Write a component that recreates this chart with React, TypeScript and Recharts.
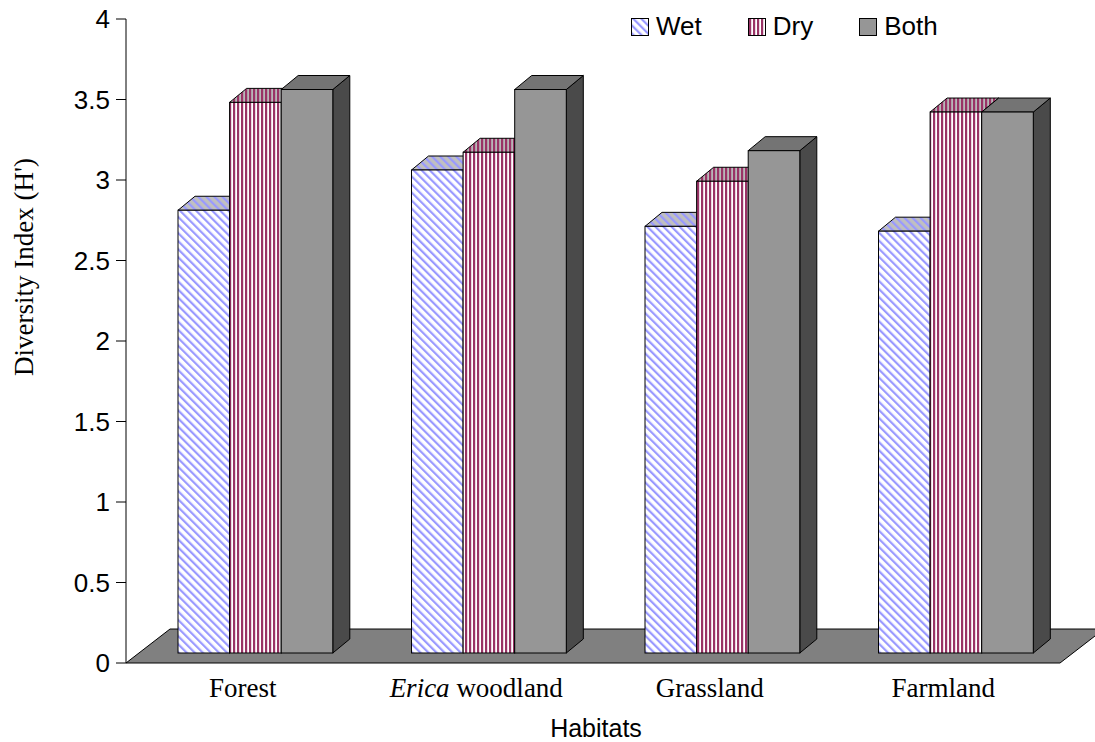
import React from "react";
import { BarChart, Bar, XAxis, YAxis, Legend, ReferenceArea } from "recharts";

const habitats = ["Forest", "Erica woodland", "Grassland", "Farmland"];
const wetValues = [2.75, 3.0, 2.65, 2.62];
const dryValues = [3.42, 3.11, 2.93, 3.36];
const bothValues = [3.5, 3.5, 3.12, 3.36];
const yTicks = [0, 0.5, 1, 1.5, 2, 2.5, 3, 3.5, 4];
const seriesNames = ["Wet", "Dry", "Both"];

const data = habitats.map((habitat, i) => ({
  habitat,
  wet: wetValues[i],
  dry: dryValues[i],
  both: bothValues[i],
}));

const SANS = "'Liberation Sans', Arial, sans-serif";
const SERIF = "'Liberation Serif', 'Times New Roman', serif";

// fake 3d: bars sit a bit back on the floor
const SHIFT_X = 13;
const SHIFT_Y = 10;
const DEPTH_X = 17;
const DEPTH_Y = 14;
const FLOOR_X = 44;

const faces: Record<string, { front: string; top: string; side: string }> = {
  wet: { front: "url(#wetFront)", top: "url(#wetTop)", side: "url(#wetTop)" },
  dry: { front: "url(#dryFront)", top: "url(#dryTop)", side: "url(#dryTop)" },
  both: { front: "#969696", top: "#747474", side: "#4a4a4a" },
};

const Bar3D = (props: any) => {
  const { x, y, width, height, kind } = props;
  const f = faces[kind];
  const X = x + SHIFT_X;
  const Y = y - SHIFT_Y;
  const W = width;
  const H = height;
  return (
    <g stroke="#000" strokeWidth={1}>
      <polygon
        points={`${X + W},${Y} ${X + W + DEPTH_X},${Y - DEPTH_Y} ${X + W + DEPTH_X},${Y + H - DEPTH_Y} ${X + W},${Y + H}`}
        fill={f.side}
      />
      <polygon
        points={`${X},${Y} ${X + W},${Y} ${X + W + DEPTH_X},${Y - DEPTH_Y} ${X + DEPTH_X},${Y - DEPTH_Y}`}
        fill={f.top}
      />
      <rect x={X} y={Y} width={W} height={H} fill={f.front} />
    </g>
  );
};

const Floor = (props: any) => {
  const { x, y, width, height } = props;
  const front = y + height;
  return (
    <polygon
      points={`${x},${front} ${x + width},${front} ${x + width + FLOOR_X},${y} ${x + FLOOR_X},${y}`}
      fill="#808080"
      stroke="#000"
      strokeWidth={1}
    />
  );
};

const CategoryTick = (props: any) => {
  const { x, y, payload } = props;
  const label: string = payload.value;
  const italic = label.startsWith("Erica ");
  return (
    <text x={x} y={y + 34} textAnchor="middle" fontFamily={SERIF} fontSize={27} fill="#000">
      {italic ? (
        <>
          <tspan fontStyle="italic">Erica</tspan>
          {" woodland"}
        </>
      ) : (
        label
      )}
    </text>
  );
};

const renderLegend = (props: any) => {
  const payload = [...(props.payload || [])].sort(
    (a: any, b: any) => seriesNames.indexOf(a.value) - seriesNames.indexOf(b.value)
  );
  return (
    <div style={{ display: "flex", alignItems: "center", fontFamily: SANS, fontSize: 26, whiteSpace: "nowrap", color: "#000" }}>
      {payload.map((entry: any, i: number) => (
        <div key={`leg-${i}`} style={{ display: "flex", alignItems: "center", marginRight: 46 }}>
          <svg width={18} height={18}>
            <rect x={0.5} y={0.5} width={17} height={17} fill={entry.color} stroke="#000" />
          </svg>
          <span style={{ marginLeft: 7 }}>{entry.value}</span>
        </div>
      ))}
    </div>
  );
};

export default function App() {
  return (
    <div style={{ position: "absolute", left: 0, top: 0, width: 1095, height: 742, background: "#fff" }}>
      <BarChart
        width={1095}
        height={742}
        data={data}
        margin={{ top: 19, right: 35, bottom: 0, left: 0 }}
        barGap={0}
        barSize={51.6}
      >
        <defs>
          <pattern id="wetFront" width={5.7} height={10} patternUnits="userSpaceOnUse" patternTransform="rotate(-45)">
            <rect width={5.7} height={10} fill="#ffffff" />
            <rect width={2.2} height={10} fill="#9999ff" />
          </pattern>
          <pattern id="wetTop" width={5.7} height={10} patternUnits="userSpaceOnUse" patternTransform="rotate(-45)">
            <rect width={5.7} height={10} fill="#c0c0c0" />
            <rect width={2.2} height={10} fill="#9999ff" />
          </pattern>
          <pattern id="dryFront" width={4} height={10} patternUnits="userSpaceOnUse">
            <rect width={4} height={10} fill="#ffffff" />
            <rect x={1} width={2.2} height={10} fill="#993366" />
          </pattern>
          <pattern id="dryTop" width={4} height={10} patternUnits="userSpaceOnUse">
            <rect width={4} height={10} fill="#b8b8b8" />
            <rect x={1} width={2.2} height={10} fill="#993366" />
          </pattern>
        </defs>
        <XAxis
          dataKey="habitat"
          axisLine={false}
          tickLine={false}
          tickSize={0}
          tickMargin={0}
          height={79}
          interval={0}
          tick={<CategoryTick />}
          label={{ value: "Habitats", position: "insideBottom", offset: 5, dx: 3, fill: "#000", fontSize: 25, fontFamily: SANS }}
        />
        <YAxis
          width={126}
          domain={[0, 4]}
          ticks={yTicks}
          interval={0}
          axisLine={{ stroke: "#000" }}
          tickLine={{ stroke: "#000" }}
          tickSize={10}
          tickMargin={6}
          tick={{ fill: "#000", fontSize: 26, fontFamily: SANS }}
          label={{
            content: () => (
              <text
                x={33}
                y={267}
                transform="rotate(-90, 33, 267)"
                textAnchor="middle"
                fontFamily={SERIF}
                fontSize={27}
                fill="#000"
              >
                Diversity Index (H')
              </text>
            ),
          }}
        />
        <ReferenceArea y1={0} y2={0.211} ifOverflow="visible" shape={<Floor />} />
        <Legend
          layout="vertical"
          align="center"
          verticalAlign="middle"
          content={renderLegend}
          wrapperStyle={{ top: 11, left: 631, width: "auto" }}
        />
        <Bar dataKey="wet" name="Wet" fill="url(#wetFront)" isAnimationActive={false} shape={<Bar3D kind="wet" />} />
        <Bar dataKey="dry" name="Dry" fill="url(#dryFront)" isAnimationActive={false} shape={<Bar3D kind="dry" />} />
        <Bar dataKey="both" name="Both" fill="#969696" isAnimationActive={false} shape={<Bar3D kind="both" />} />
      </BarChart>
    </div>
  );
}
